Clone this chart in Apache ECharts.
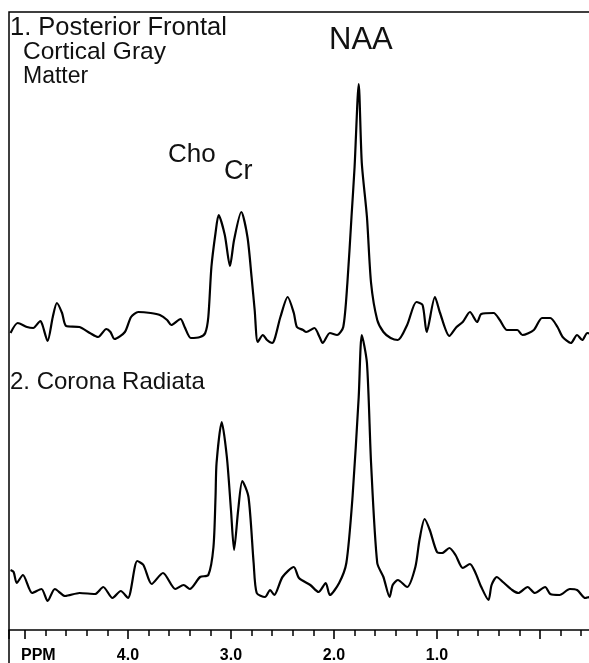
<!DOCTYPE html>
<html>
<head>
<meta charset="utf-8">
<title>MR spectra</title>
<script src="https://cdn.jsdelivr.net/npm/echarts@6/dist/echarts.min.js"></script>
<style>
  html, body { margin: 0; padding: 0; background: #fff; }
  #chart { width: 589px; height: 663px; }
</style>
</head>
<body>
<div id="chart"></div>
<script>
// chemical shift (ppm, as read on the figure's own axis) and amplitude
var grayPpm = [5.14, 5.07, 4.98, 4.92, 4.85, 4.83, 4.78, 4.73, 4.69, 4.64, 4.60, 4.47, 4.37, 4.29, 4.21, 4.17, 4.13, 4.03,
  3.97, 3.90, 3.78, 3.69, 3.62, 3.58, 3.49, 3.45, 3.39, 3.30, 3.25, 3.22, 3.19, 3.15, 3.12, 3.06, 3.01, 2.97, 2.90, 2.84,
  2.80, 2.77, 2.74, 2.69, 2.65, 2.60, 2.52, 2.45, 2.39, 2.36, 2.30, 2.27, 2.19, 2.14, 2.11, 2.04, 1.97, 1.91, 1.87, 1.83,
  1.80, 1.76, 1.73, 1.68, 1.64, 1.58, 1.52, 1.45, 1.38, 1.29, 1.20, 1.14, 1.10, 1.02, 0.97, 0.88, 0.81, 0.75, 0.68, 0.61,
  0.57, 0.45, 0.39, 0.32, 0.22, 0.17, 0.06, -0.02, -0.10, -0.17, -0.22, -0.30, -0.36, -0.41, -0.46, -0.53]
var grayAmp = [297, 307, 303, 302, 309, 305, 289, 313, 327, 317, 304, 303, 297, 293, 301, 298, 291, 298,
  313, 318, 317, 315, 310, 305, 311, 303, 292, 293, 297, 313, 363, 397, 415, 395, 364, 390, 418, 393,
  353, 320, 288, 295, 290, 287, 313, 333, 317, 303, 300, 298, 302, 293, 287, 297, 295, 303, 347, 413,
  463, 546, 467, 413, 347, 310, 298, 292, 290, 305, 328, 325, 298, 333, 317, 294, 303, 308, 318, 308,
  316, 317, 310, 300, 300, 295, 300, 312, 312, 303, 293, 287, 295, 290, 297, 295]

var coronaPpm = [5.14, 5.11, 5.08, 5.02, 4.93, 4.84, 4.78, 4.71, 4.61, 4.47, 4.32, 4.24, 4.15, 4.07, 4.00, 3.91, 3.85,
  3.77, 3.66, 3.54, 3.46, 3.40, 3.30, 3.22, 3.17, 3.15, 3.14, 3.09, 3.04, 3.00, 2.97, 2.93, 2.89, 2.83, 2.78, 2.75,
  2.67, 2.62, 2.58, 2.50, 2.39, 2.34, 2.23, 2.15, 2.08, 2.04, 1.95, 1.88, 1.82, 1.76, 1.73, 1.68, 1.64, 1.58, 1.52,
  1.46, 1.43, 1.38, 1.29, 1.21, 1.17, 1.12, 1.07, 1.00, 0.95, 0.88, 0.82, 0.75, 0.68, 0.63, 0.57, 0.50, 0.47, 0.42,
  0.36, 0.27, 0.21, 0.12, 0.05, -0.05, -0.10, -0.19, -0.29, -0.36, -0.44, -0.48, -0.54]
var coronaAmp = [60, 58, 47, 55, 37, 41, 29, 41, 34, 37, 36, 43, 32, 39, 32, 69, 65,
  46, 57, 41, 45, 41, 53, 55, 83, 133, 167, 208, 173, 120, 80, 120, 149, 133, 67, 37,
  33, 40, 35, 53, 63, 52, 45, 38, 47, 35, 47, 67, 133, 233, 295, 267, 167, 67, 53,
  33, 45, 50, 43, 63, 90, 111, 100, 78, 77, 82, 75, 62, 66, 58, 43, 30, 45, 53,
  48, 40, 37, 43, 37, 43, 36, 35, 41, 40, 32, 33, 33]

var ppmTicks = [1, 2, 3, 4]

function pairs(xs, ys) {
  return xs.map(function (x, i) { return [x, ys[i]] })
}

var chart = echarts.init(document.getElementById('chart'))

var textFont = '"Liberation Sans", Arial, sans-serif'

chart.setOption({
  backgroundColor: '#fff',
  animation: false,
  grid: {
    left: 9,
    top: 12,
    width: 634,
    height: 620,
    outerBoundsMode: 'none',
    containLabel: false
  },
  xAxis: {
    type: 'value',
    min: -1,
    max: 5.155,
    interval: 1,
    inverse: true,
    axisLine: { lineStyle: { color: '#000', width: 1.6 } },
    axisTick: { length: 9, lineStyle: { color: '#000', width: 1.6 } },
    minorTick: { show: true, splitNumber: 5, length: 6, lineStyle: { color: '#000', width: 1.5 } },
    splitLine: { show: false },
    axisLabel: {
      margin: 16,
      color: '#000',
      fontFamily: textFont,
      fontSize: 16,
      fontWeight: 'bold',
      showMinLabel: false,
      showMaxLabel: false,
      formatter: function (v) {
        return ppmTicks.indexOf(v) >= 0 ? v.toFixed(1) : ''
      }
    }
  },
  yAxis: {
    type: 'value',
    min: -2,
    max: 618,
    show: false
  },
  graphic: [
    {
      type: 'rect',
      shape: { x: 9, y: 12, width: 700, height: 700 },
      style: { fill: 'none', stroke: '#000', lineWidth: 1.5 }
    },
    { type: 'text', x: 21, y: 648, style: { text: 'PPM', font: 'bold 16px ' + textFont, fill: '#000' } },
    { type: 'text', x: 10, y: 15, style: { text: '1. Posterior Frontal', font: '25.5px ' + textFont, fill: '#111' } },
    { type: 'text', x: 23, y: 40, style: { text: 'Cortical Gray', font: '24.5px ' + textFont, fill: '#111' } },
    { type: 'text', x: 23, y: 65, style: { text: 'Matter', font: '23px ' + textFont, fill: '#111' } },
    { type: 'text', x: 329, y: 25, style: { text: 'NAA', font: '31px ' + textFont, fill: '#111' } },
    { type: 'text', x: 168, y: 142, style: { text: 'Cho', font: '26px ' + textFont, fill: '#111' } },
    { type: 'text', x: 224, y: 158, style: { text: 'Cr', font: '27px ' + textFont, fill: '#111' } },
    { type: 'text', x: 10, y: 370, style: { text: '2. Corona Radiata', font: '24px ' + textFont, fill: '#111' } }
  ],
  series: [
    {
      name: 'Posterior Frontal Cortical Gray Matter',
      type: 'line',
      data: pairs(grayPpm, grayAmp),
      smooth: 0.25,
      showSymbol: false,
      lineStyle: { color: '#000', width: 2.2 }
    },
    {
      name: 'Corona Radiata',
      type: 'line',
      data: pairs(coronaPpm, coronaAmp),
      smooth: 0.25,
      showSymbol: false,
      lineStyle: { color: '#000', width: 2.2 }
    }
  ]
})
</script>
</body>
</html>
